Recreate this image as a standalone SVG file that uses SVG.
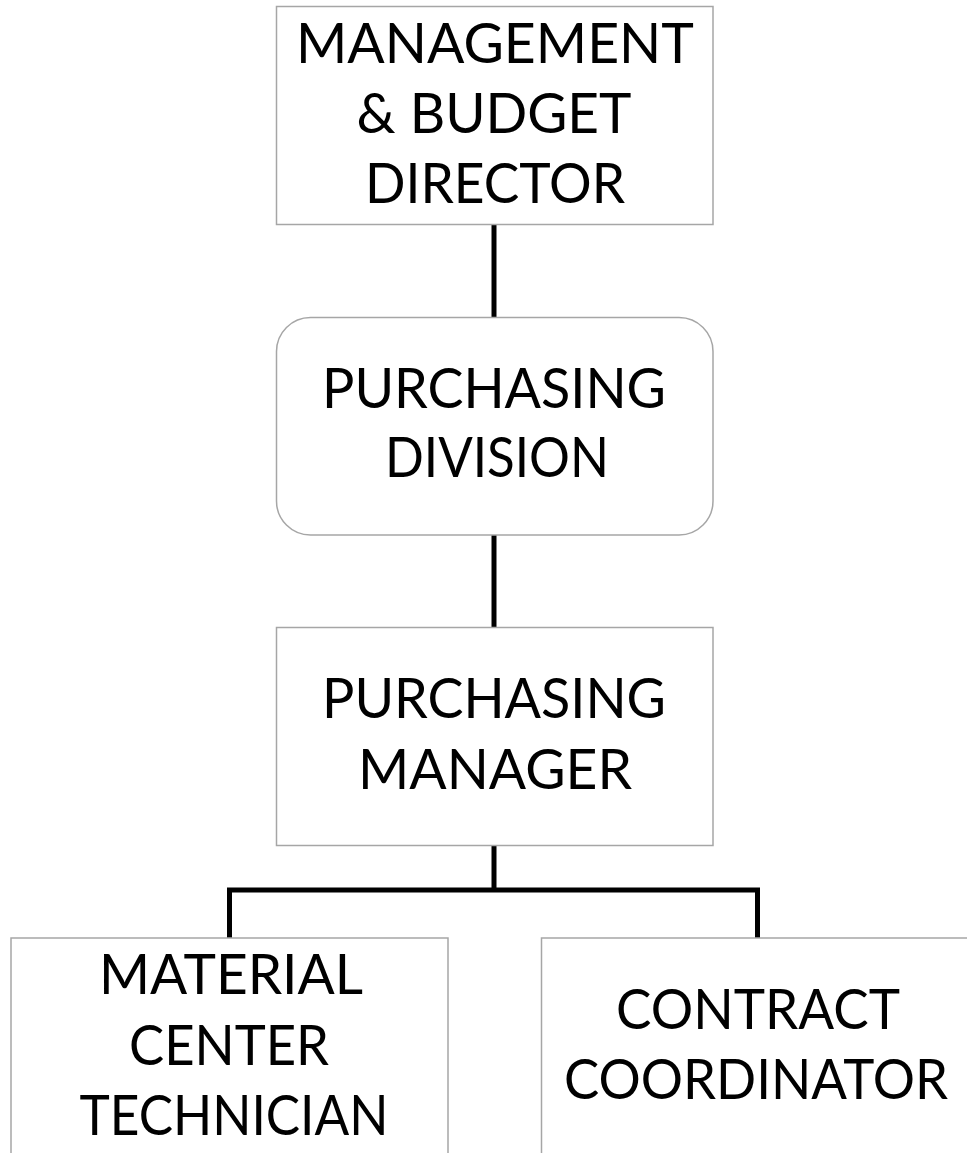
<svg xmlns="http://www.w3.org/2000/svg" width="967" height="1153" viewBox="0 0 967 1153">
<style>
.box{fill:#ffffff;stroke:#a6a6a6;stroke-width:1.5}
.lbl{font-family:Lato,"Open Sans","Liberation Sans",sans-serif;font-size:56px;fill:#000000;text-anchor:middle}
.conn{fill:none;stroke:#000000;stroke-width:5;stroke-linecap:butt;stroke-linejoin:miter}
</style>
<rect width="967" height="1153" fill="#ffffff"/>
<g id="connectors">
<line class="conn" x1="494" y1="225" x2="494" y2="317"/>
<line class="conn" x1="494" y1="535" x2="494" y2="627"/>
<path class="conn" d="M494 846 V890 M229.5 938 V890 H757.5 V938"/>
</g>
<g id="node-director">
<rect class="box" x="276.5" y="6.5" width="436.5" height="218"/>
<text class="lbl" x="495" y="63" textLength="398" lengthAdjust="spacingAndGlyphs">MANAGEMENT</text>
<text class="lbl" x="494" y="133" textLength="275" lengthAdjust="spacingAndGlyphs">&amp; BUDGET</text>
<text class="lbl" x="495" y="203" textLength="260" lengthAdjust="spacingAndGlyphs">DIRECTOR</text>
</g>
<g id="node-division">
<rect class="box" x="276.5" y="317.5" width="436.5" height="217.5" rx="34" ry="34"/>
<text class="lbl" x="494" y="408" textLength="344" lengthAdjust="spacingAndGlyphs">PURCHASING</text>
<text class="lbl" x="497" y="477" textLength="224" lengthAdjust="spacingAndGlyphs">DIVISION</text>
</g>
<g id="node-manager">
<rect class="box" x="276.5" y="627.5" width="436.5" height="218"/>
<text class="lbl" x="494" y="718" textLength="344" lengthAdjust="spacingAndGlyphs">PURCHASING</text>
<text class="lbl" x="495" y="789" textLength="274" lengthAdjust="spacingAndGlyphs">MANAGER</text>
</g>
<g id="node-technician">
<rect class="box" x="11" y="938" width="437" height="240"/>
<text class="lbl" x="231" y="994" textLength="264" lengthAdjust="spacingAndGlyphs">MATERIAL</text>
<text class="lbl" x="229" y="1065" textLength="200" lengthAdjust="spacingAndGlyphs">CENTER</text>
<text class="lbl" x="234" y="1135" textLength="309" lengthAdjust="spacingAndGlyphs">TECHNICIAN</text>
</g>
<g id="node-coordinator">
<rect class="box" x="541.5" y="938" width="440" height="240"/>
<text class="lbl" x="758" y="1029" textLength="284" lengthAdjust="spacingAndGlyphs">CONTRACT</text>
<text class="lbl" x="756" y="1099" textLength="384" lengthAdjust="spacingAndGlyphs">COORDINATOR</text>
</g>
</svg>
